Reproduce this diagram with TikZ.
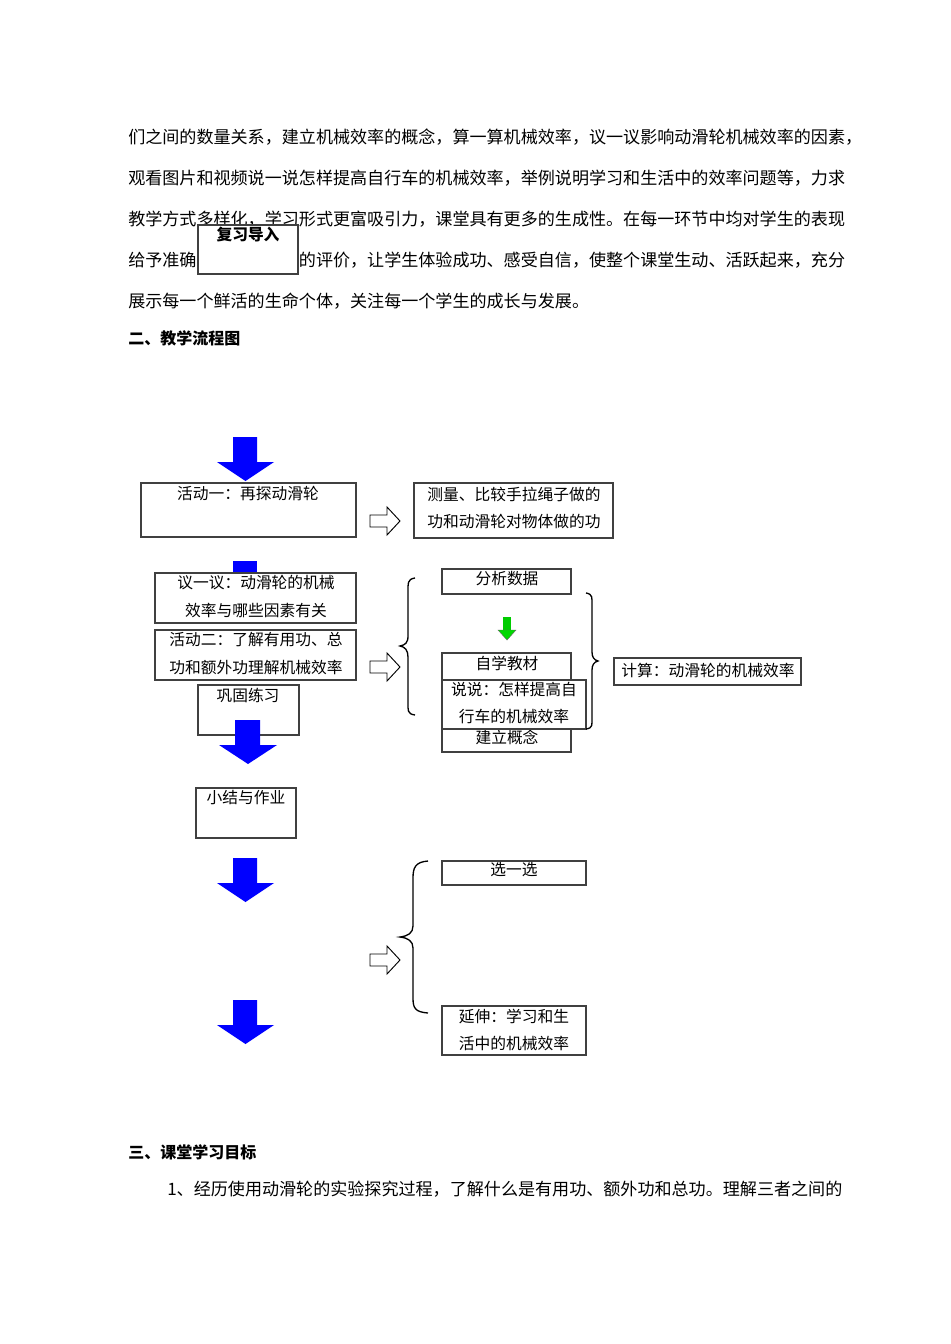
\documentclass[tikz,border=0pt]{standalone}
\usepackage{fontspec}
\setmainfont{Liberation Serif}
\newfontfamily\cjk{Noto Sans CJK SC}
\begin{document}
\begin{tikzpicture}[x=0.75pt,y=-0.75pt,
  bx/.style={draw=black!75,line width=0.8pt,fill=white},
  tx/.style={font=\cjk\fontsize{11.8pt}{14pt}\selectfont,inner sep=0pt},
  para/.style={font=\cjk\fontsize{12.8pt}{14pt}\selectfont,anchor=west,inner sep=0pt},
  hollow/.style={draw=black,line width=0.7pt,fill=white},
  brace/.style={draw=black,line width=1pt}]
\useasboundingbox[fill=white] (0,0) rectangle (950,1344);
% paragraph
\node[para] (l1) at (128,137) {们之间的数量关系，建立机械效率的概念，算一算机械效率，议一议影响动滑轮机械效率的因素，};
\node[para] (l2) at (128,178) {观看图片和视频说一说怎样提高自行车的机械效率，举例说明学习和生活中的效率问题等，力求};
\node[para] (l3) at (128,219) {教学方式多样化，学习形式更富吸引力，课堂具有更多的生成性。在每一环节中均对学生的表现};
\node[para] (l4) at (128,260) {给予准确、及时、恰当的评价，让学生体验成功、感受自信，使整个课堂生动、活跃起来，充分};
\node[para] (l5) at (128,301) {展示每一个鲜活的生命个体，关注每一个学生的成长与发展。};
\node[para,font=\cjk\bfseries\fontsize{12pt}{14pt}\selectfont] (h2) at (128,338) {二、教学流程图};
\node[para,font=\cjk\bfseries\fontsize{12pt}{14pt}\selectfont] (h3) at (128,1152) {三、课堂学习目标};
\node[para] (l6) at (167,1189) {1、经历使用动滑轮的实验探究过程，了解什么是有用功、额外功和总功。理解三者之间的};
% review box
\draw[bx] (198,225) rectangle (298,274);
\node[tx,font=\cjk\bfseries\fontsize{11.8pt}{14pt}\selectfont] (fx) at (248,235) {复习导入};
% blue arrows
\foreach \y in {437,858,1000}{
  \fill[blue] (233,\y) -- (257,\y) -- (257,\y+25) -- (274,\y+25) -- (245.5,\y+44) -- (217,\y+25) -- (233,\y+25) -- cycle;}
\fill[blue] (233,561) rectangle (257,574);
% activity one
\draw[bx] (141,483) rectangle (356,537);
\node[tx] (h1) at (248,494) {活动一：再探动滑轮};
\draw[bx] (414,483) rectangle (613,538);
\node[tx] (m1) at (514,494) {测量、比较手拉绳子做的};
\node[tx] (m2) at (514,521) {功和动滑轮对物体做的功};
% hollow arrows
\foreach \y in {521,667,960}{
  \draw[hollow] (370,\y-6) -- (387,\y-6) -- (387,\y-14) -- (400,\y) -- (387,\y+14) -- (387,\y+6) -- (370,\y+6) -- cycle;}
% middle left boxes
\draw[bx] (155,573) rectangle (356,623);
\node[tx] (y1) at (256,583) {议一议：动滑轮的机械};
\node[tx] (y2) at (256,610) {效率与哪些因素有关};
\draw[bx] (155,630) rectangle (356,680);
\node[tx] (h21) at (256,640) {活动二：了解有用功、总};
\node[tx] (h22) at (256,667) {功和额外功理解机械效率};
\draw[bx] (198,685) rectangle (299,735);
\node[tx] (gg) at (248,695) {巩固练习};
\fill[blue] (235,720) -- (260,720) -- (260,745) -- (277,745) -- (248,764) -- (219,745) -- (235,745) -- cycle;
% left brace 1
\draw[brace] (415,578) .. controls (407,579) and (408,584) .. (408,592) -- (408,636) .. controls (408,643) and (405,645) .. (400,646) .. controls (405,647) and (408,650) .. (408,657) -- (408,702) .. controls (408,710) and (407,714) .. (415,715);
% right column
\draw[bx] (442,569) rectangle (571,594);
\node[tx] (fs) at (507,579) {分析数据};
\fill[green!80!black] (503,617) rectangle (511,632);
\fill[green!85!black,draw=black!60,line width=0.3pt] (498,630) -- (516,630) -- (507,640) -- cycle;
\draw[bx] (442,653) rectangle (571,752);
\node[tx] (zx) at (507,663) {自学教材};
\node[tx] (jl) at (507,737) {建立概念};
\draw[bx] (442,680) rectangle (586,729);
\node[tx] (ss1) at (514,689) {说说：怎样提高自};
\node[tx] (ss2) at (514,716) {行车的机械效率};
% right brace
\draw[brace] (586,593) .. controls (593,594) and (592,598) .. (592,606) -- (592,652) .. controls (592,657) and (594,660) .. (598,661) .. controls (594,662) and (592,665) .. (592,670) -- (592,717) .. controls (592,725) and (593,728) .. (586,729);
\draw[bx] (614,658) rectangle (801,685);
\node[tx] (js) at (708,670) {计算：动滑轮的机械效率};
% summary
\draw[bx] (196,788) rectangle (296,838);
\node[tx] (xj) at (246,798) {小结与作业};
% left brace 2
\draw[brace] (428,861) .. controls (415,862) and (413,868) .. (413,878) -- (413,926) .. controls (413,933) and (408,936) .. (400,937) .. controls (408,938) and (413,941) .. (413,948) -- (413,998) .. controls (413,1008) and (415,1012) .. (428,1013);
\draw[bx] (442,861) rectangle (586,885);
\node[tx] (xy) at (514,870) {选一选};
\draw[bx] (442,1006) rectangle (586,1055);
\node[tx] (ys1) at (514,1016) {延伸：学习和生};
\node[tx] (ys2) at (514,1043) {活中的机械效率};
\end{tikzpicture}
\end{document}
